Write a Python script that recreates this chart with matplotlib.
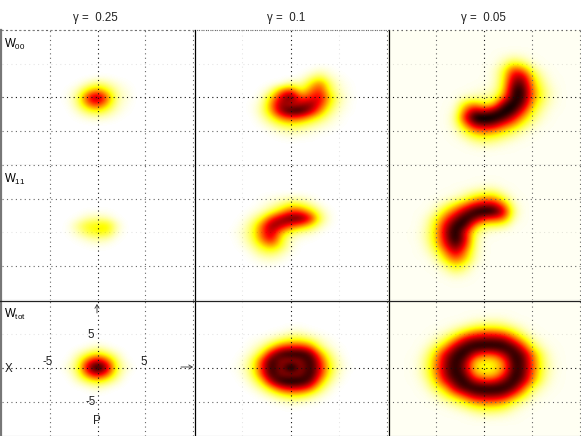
import numpy as np
import matplotlib
matplotlib.use("Agg")
import matplotlib.pyplot as plt
from matplotlib.lines import Line2D
from matplotlib.patches import FancyArrowPatch

plt.rcParams['font.family'] = ['Liberation Sans', 'DejaVu Sans']

gamma_labels = ["0.25", "0.1", "0.05"]
row_labels = ["00", "11", "tot"]
grid_ticks = [-5, 0, 5, 10]

# Each map: x of first column, y of first row (top), then samples per unit step
W00_025 = (-3, 3, [
 [0,0,0,.01,.01,0,0],
 [0,.01,.08,.16,.1,.04,.01],
 [.01,.08,.3,.45,.26,.08,.03],
 [.02,.15,.62,.88,.5,.1,.04],
 [.01,.13,.45,.62,.34,.08,.02],
 [0,.06,.18,.26,.15,.05,.01],
 [0,.01,.04,.06,.04,.01,0]])
W00_01 = (-4, 4, [
 [0,0,0,0,0,0,.01,.05,.02,0,0],
 [0,0,0,0,0,.01,.1,.2,.06,.02,0],
 [0,0,.01,.02,.12,.08,.28,.5,.15,.04,.01],
 [0,.01,.1,.45,.62,.22,.45,.62,.2,.06,.01],
 [0,.04,.32,.72,.95,.5,.6,.72,.32,.09,.02],
 [.01,.08,.44,.84,.66,.75,.85,.62,.25,.07,.01],
 [.01,.1,.4,.82,1,1,.78,.44,.15,.04,.01],
 [0,.06,.22,.46,.58,.52,.36,.2,.07,.02,0],
 [0,.02,.09,.18,.24,.2,.13,.07,.03,.01,0],
 [0,0,.02,.06,.09,.07,.04,.02,.01,0,0],
 [0,0,0,.01,.02,.01,.01,0,0,0,0]])
W00_005 = (-4, 6, [
 [0,0,0,0,0,.01,.04,.08,.05,.01,0,0,0],
 [0,0,0,0,0,.02,.1,.26,.18,.05,.01,0,0],
 [0,0,0,0,.01,.04,.2,.6,.5,.16,.04,.01,0],
 [0,0,0,0,.01,.04,.24,.75,.78,.3,.08,.02,0],
 [0,0,0,0,.02,.05,.26,.88,.9,.38,.13,.03,0],
 [0,0,.01,.03,.05,.07,.32,.98,.98,.45,.17,.05,.01],
 [0,.01,.07,.1,.1,.15,.48,1,.96,.45,.18,.05,.01],
 [0,.03,.3,.42,.25,.35,.9,1.05,.85,.35,.13,.04,.01],
 [.01,.06,.5,.82,.68,.88,1.05,.98,.6,.24,.08,.02,0],
 [.01,.1,.65,1.05,1.1,1.05,.95,.68,.38,.15,.05,.01,0],
 [.01,.08,.42,.8,.85,.8,.58,.42,.2,.08,.02,0,0],
 [0,.04,.2,.42,.48,.42,.3,.18,.08,.03,.01,0,0],
 [0,.02,.08,.18,.22,.18,.12,.07,.03,.01,0,0,0],
 [0,0,.02,.06,.08,.07,.04,.02,.01,0,0,0,0],
 [0,0,0,.01,.02,.01,.01,0,0,0,0,0,0]])
W11_025 = (-3, 3, [
 [0,0,.01,.01,.01,0],
 [0,.02,.08,.1,.07,.01],
 [.01,.12,.24,.27,.3,.07],
 [.01,.08,.2,.26,.26,.05],
 [0,.02,.06,.1,.08,.01],
 [0,0,.01,.02,.01,0]])
W11_01 = (-6, 5, [
 [0,0,0,.01,.02,.04,.06,.05,.02,0,0],
 [0,0,0,.02,.06,.13,.25,.21,.1,.02,0],
 [0,0,.02,.06,.18,.36,.58,.55,.34,.1,.01],
 [0,.01,.07,.22,.58,.8,.92,.92,.68,.18,.02],
 [0,.03,.15,.47,.85,.78,.58,.48,.3,.08,.01],
 [.01,.05,.18,.52,.8,.38,.2,.1,.06,.01,0],
 [0,.04,.16,.47,.72,.24,.06,.02,.01,0,0],
 [0,.02,.1,.28,.42,.22,.04,0,0,0,0],
 [0,0,.04,.14,.18,.09,.02,0,0,0,0],
 [0,0,.01,.04,.06,.03,0,0,0,0,0],
 [0,0,0,.01,.01,0,0,0,0,0,0]])
W11_005 = (-7, 7, [
 [0,0,0,0,0,.01,.02,.03,.03,.01,0],
 [0,0,0,.01,.02,.05,.09,.13,.13,.05,.01],
 [0,0,.01,.03,.07,.15,.32,.4,.4,.18,.03],
 [0,.01,.04,.13,.28,.47,.68,.78,.75,.47,.07],
 [0,.02,.1,.32,.55,.82,1,1.05,1.02,.72,.12],
 [.01,.05,.22,.52,.82,1.02,.88,.62,.58,.5,.07],
 [.01,.07,.3,.7,1,.98,.45,.2,.2,.15,.02],
 [.02,.09,.32,.77,1.05,.68,.2,.06,.03,.01,0],
 [.02,.09,.32,.74,1.05,.72,.13,.02,.01,0,0],
 [.01,.06,.27,.64,.93,.62,.11,.01,0,0,0],
 [0,.04,.16,.45,.75,.45,.09,.01,0,0,0],
 [0,.01,.08,.3,.52,.34,.07,0,0,0,0],
 [0,0,.03,.13,.28,.17,.03,0,0,0,0],
 [0,0,.01,.05,.12,.07,.01,0,0,0,0],
 [0,0,0,.01,.03,.02,0,0,0,0,0]])
Wtot_025 = (-3, 3, [
 [0,0,.02,.06,.02,0,0],
 [0,.06,.17,.28,.17,.06,0],
 [.01,.15,.52,.76,.52,.15,.01],
 [.05,.2,.78,1.1,.8,.2,.05],
 [.01,.15,.52,.76,.52,.15,.01],
 [0,.06,.17,.28,.17,.06,0],
 [0,0,.02,.06,.02,0,0]])
Wtot_01 = (-6, 6, [
 [0,0,0,0,0,0,.01,.01,0,0,0,0,0],
 [0,0,0,0,.01,.03,.07,.07,.03,.01,0,0,0],
 [0,0,.01,.03,.08,.17,.25,.25,.16,.06,.02,0,0],
 [0,0,.03,.1,.3,.55,.62,.62,.5,.14,.04,.01,0],
 [0,.01,.07,.26,.74,.98,1.02,1.02,.9,.42,.12,.02,0],
 [0,.03,.15,.55,1,.78,.72,.78,1.02,.62,.2,.05,0],
 [.01,.04,.18,.6,1.02,.72,1.2,.72,1,.68,.25,.06,.01],
 [0,.03,.15,.55,1,.8,.74,.8,1.02,.62,.2,.04,0],
 [0,.01,.08,.3,.8,1.02,1.05,1.02,.9,.42,.11,.02,0],
 [0,0,.03,.12,.35,.62,.72,.7,.55,.2,.04,0,0],
 [0,0,0,.03,.1,.22,.3,.28,.17,.06,.01,0,0],
 [0,0,0,0,.01,.04,.07,.06,.03,.01,0,0,0],
 [0,0,0,0,0,0,.01,0,0,0,0,0,0]])
Wtot_005 = (-7, 8, [
 [0,0,0,0,0,0,0,.01,.01,.01,0,0,0,0,0,0],
 [0,0,0,0,.01,.02,.04,.05,.06,.05,.02,.01,0,0,0,0],
 [0,0,.01,.02,.05,.1,.17,.2,.2,.17,.1,.04,.01,0,0,0],
 [0,.01,.03,.08,.18,.35,.5,.55,.55,.48,.3,.12,.03,.01,0,0],
 [0,.02,.08,.2,.45,.75,.86,.88,.88,.84,.6,.32,.1,.03,.01,0],
 [.01,.05,.2,.42,.8,.95,1,1,1,1,.92,.6,.22,.06,.02,0],
 [.02,.1,.34,.72,.95,1,.72,.55,.57,.78,1,.85,.45,.14,.03,.01],
 [.03,.14,.42,.8,1,.85,.36,.26,.28,.5,.98,.92,.5,.17,.04,.01],
 [.03,.15,.45,.82,1,.78,.28,.23,.25,.42,.95,.92,.52,.18,.05,.01],
 [.03,.14,.42,.8,1,.88,.42,.3,.32,.58,1,.9,.48,.16,.04,.01],
 [.02,.09,.32,.68,.92,1,.75,.62,.65,.85,1,.8,.4,.12,.03,0],
 [.01,.05,.2,.38,.78,.95,1,1,1,1,.9,.52,.18,.06,.02,0],
 [0,.02,.08,.22,.4,.62,.82,.85,.85,.8,.55,.28,.08,.03,.01,0],
 [0,0,.03,.08,.16,.28,.45,.5,.5,.42,.24,.1,.03,.01,0,0],
 [0,0,.01,.02,.05,.1,.18,.22,.22,.18,.08,.03,.01,0,0,0],
 [0,0,0,0,.01,.02,.05,.07,.07,.05,.03,.01,0,0,0,0],
 [0,0,0,0,0,0,0,.01,.01,0,0,0,0,0,0,0]])

maps = [[W00_025, W00_01, W00_005],
        [W11_025, W11_01, W11_005],
        [Wtot_025, Wtot_01, Wtot_005]]
backgrounds = [0.0, 0.0, 0.015]

W, H = 581, 436
fig = plt.figure(figsize=(W/100, H/100), dpi=100, facecolor='white')

def px(x, y):
    return x/W, 1 - y/H

lefts, rights = [2, 194, 388], [193, 387, 580]
tops, bots = [30, 165, 300], [165, 300, 436]

faint_h = {0: [5], 1: [0], 2: [5]}
faint_v = {0: [], 1: [-5, 5], 2: []}

def grid_style(t, faint):
    if faint:
        return dict(color='k', alpha=0.1)
    return dict(color='#111111' if t == 0 else '#666666')

for r in range(3):
    for c in range(3):
        ax = fig.add_axes([lefts[c]/W, 1-bots[r]/H, (rights[c]-lefts[c])/W, (bots[r]-tops[r])/H])
        x0, y0, rows = maps[r][c]
        rows = np.array(rows, float)
        grid = np.full((21, 21), backgrounds[c])
        i0, j0 = 10 - y0, x0 + 10
        grid[i0:i0+rows.shape[0], j0:j0+rows.shape[1]] = np.maximum(rows, backgrounds[c])
        ax.imshow(grid, cmap='hot_r', vmin=0, vmax=1, extent=(-10.5, 10.5, -10.5, 10.5),
                  origin='upper', aspect='auto', interpolation='bicubic', interpolation_stage='data')
        ax.set_xlim(-10, 10); ax.set_ylim(-10, 10)
        ax.set_xticks([]); ax.set_yticks([])
        for s in ax.spines.values():
            s.set_visible(False)
        for t in grid_ticks:
            ax.axvline(t, lw=0.8, ls=(0, (1, 3)), clip_on=False, zorder=3,
                       **grid_style(t, t in faint_v[c]))
        for t in grid_ticks:
            if t == 10 and r == 2:
                continue
            ax.axhline(t, lw=0.8, ls=(0, (1, 3)), clip_on=False, zorder=3,
                       **grid_style(t, t in faint_h[r]))
        ax.axhline(-10, color='#999999', lw=0.8, clip_on=False, zorder=3)

# dividers
fig.add_artist(Line2D([1/W, 1/W], [1-30/H, 0], color='#777777', lw=1.6))
for x in (194.5, 388.5):
    fig.add_artist(Line2D([x/W, x/W], [1-30/H, 0], color='k', lw=0.9))
fig.add_artist(Line2D([0, 1], [1-300.5/H]*2, color='#222222', lw=0.9))
fig.add_artist(Line2D([1/W, 580/W], [1-30/H]*2, color='#666666', lw=0.8, ls=(0, (1, 3))))

def label(x, y, s, size=8.3, color='#222222'):
    fig.text(x/W, 1-y/H, s, fontsize=size, ha='center', va='center', color=color)

for x, g in zip((95, 286, 483), gamma_labels):
    label(x, 18, f"\u03b3 =  {g}", 8.3)

for y, lab in zip((44, 179, 314), row_labels):
    label(15, y, f"$\\mathregular{{W_{{{lab}}}}}$", 8.3, 'k')

label(91, 335, "5"); label(48, 362, "-5"); label(144, 362, "5"); label(91, 402, "-5")
label(9, 369, "X"); label(97, 421, "P")

for a, b in ((px(181, 367), px(193, 367)), (px(97, 313), px(97, 304))):
    fig.add_artist(FancyArrowPatch(a, b, transform=fig.transFigure, shrinkA=0, shrinkB=0,
                   arrowstyle='->,head_length=2.5,head_width=1.5', lw=0.6, color='#333333',
                   mutation_scale=1))

fig.savefig('out.png', dpi=100)
